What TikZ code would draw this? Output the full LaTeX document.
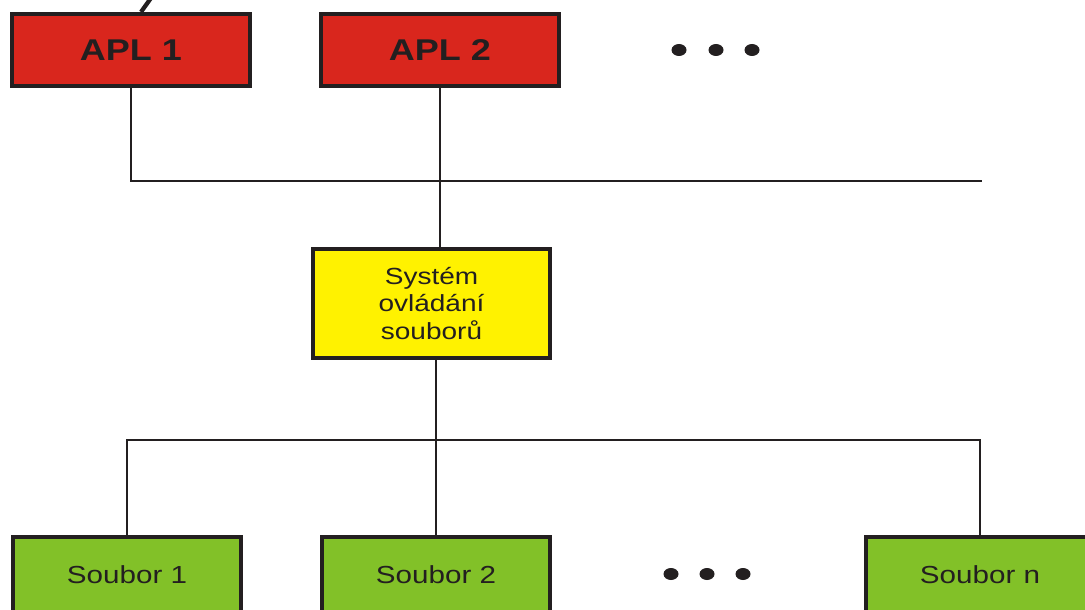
\documentclass[tikz,border=0pt]{standalone}
\usepackage{fontspec}
\newfontfamily\diagfont[FakeStretch=1.2]{Liberation Sans}
\definecolor{aplred}{RGB}{217,38,29}
\definecolor{sysyellow}{RGB}{255,242,0}
\definecolor{filegreen}{RGB}{130,193,40}
\definecolor{ink}{RGB}{35,31,32}
\tikzset{
  box/.style={draw=ink, line width=3.3pt, inner sep=0pt, text=ink, align=center},
  aplbox/.style={box, fill=aplred, minimum width=178.5pt, minimum height=54pt,
    font=\diagfont\bfseries\fontsize{22.5}{26}\selectfont},
  sysbox/.style={box, fill=sysyellow, minimum width=177.75pt, minimum height=81.75pt,
    font=\diagfont\fontsize{17.5}{20.5}\selectfont},
  filebox/.style={box, fill=filegreen, minimum width=171pt, minimum height=57pt,
    font=\diagfont\fontsize{18.5}{22}\selectfont},
  wire/.style={draw=ink, line width=2.2pt},
  dot/.style={fill=ink}
}
\begin{document}
\begin{tikzpicture}[x=0.75pt, y=-0.75pt]
\clip (0,0) rectangle (1085,610);
\fill[white] (0,0) rectangle (1085,610);
% nodes
\node[aplbox] (apl1) at (131,50) {APL 1};
\node[aplbox] (apl2) at (440,50) {APL 2};
\node[sysbox] (sys) at (431.5,303.5) {Systém\\ovládání\\souborů};
\node[filebox] (s1) at (127,575) {Soubor 1};
\node[filebox] (s2) at (436,575) {Soubor 2};
\node[filebox] (sn) at (980,575) {Soubor n};
\coordinate (busTopEnd) at (982,181);
\coordinate (busBot) at (436,440);
% connectors
\draw[wire] (apl1.south) |- (busTopEnd);
\draw[wire] (apl2.south) -- (apl2.south |- sys.north);
\draw[wire] (s2.north |- sys.south) -- (s2.north);
\draw[wire] (s1.north) |- (busBot) -| (sn.north);
% ellipsis dots
\foreach \x in {679,716,752} \fill[dot] (\x,50) ellipse [x radius=7.5, y radius=6];
\foreach \x in {671,707,743} \fill[dot] (\x,574) ellipse [x radius=7.5, y radius=6];
% stray stroke at top
\draw[draw=ink, line width=3.2pt] (141,12) -- (151,-2);
\end{tikzpicture}
\end{document}
